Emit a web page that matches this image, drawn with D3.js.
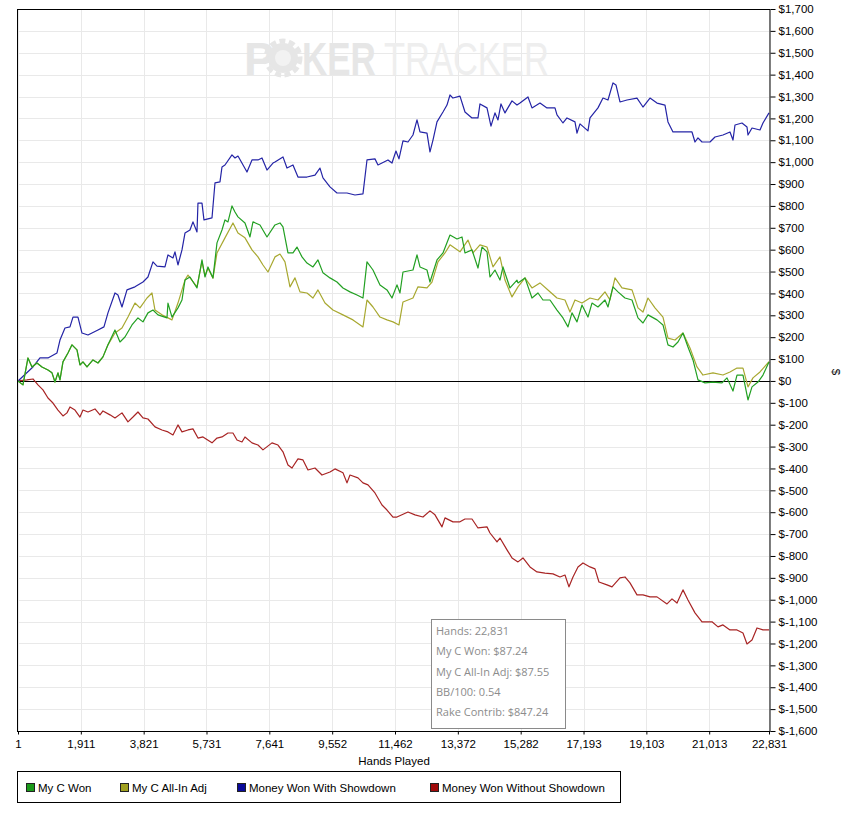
<!DOCTYPE html>
<html>
<head>
<meta charset="utf-8">
<script src="https://cdn.jsdelivr.net/npm/d3@7"></script>
<style>
  body { margin: 0; background: #fff; }
  svg { display: block; }
  .axis text { font-family: "Liberation Sans", Arial, sans-serif; font-size: 11.5px; fill: #000; }
  .axis line { stroke: #000; }
</style>
</head>
<body>
<svg id="chart" width="843" height="816"></svg>
<script>
// x tick labels (hands played)
const handTicks = [1, 1911, 3821, 5731, 7641, 9552, 11462, 13372, 15282, 17193, 19103, 21013, 22831];

// [hand, dollars]
const wonWithShowdown = [
  [1,0],[456,64],[669,105],[912,105],[1186,128],[1277,187],[1429,242],[1581,247],[1672,292],[1824,292],
  [1946,219],[2128,210],[2432,233],[2614,247],[2736,311],[2949,402],[3040,393],[3162,338],[3314,416],[3557,430],
  [3800,452],[3952,475],[4104,544],[4226,525],[4469,521],[4560,576],[4712,562],[4773,590],[4864,530],[4986,599],
  [5077,676],[5229,690],[5320,727],[5442,681],[5472,813],[5594,813],[5654,736],[5898,745],[5989,905],[6141,910],
  [6202,978],[6293,987],[6506,1033],[6597,1019],[6688,1028],[6962,955],[7114,1010],[7296,1010],[7418,1019],[7570,964],
  [7752,996],[7813,1001],[8056,1024],[8178,973],[8360,987],[8512,932],[8786,932],[9029,941],[9181,973],[9272,928],
  [9485,887],[9698,859],[10002,859],[10245,850],[10488,855],[10610,1010],[10853,1015],[10944,987],[11248,1010],[11370,996],
  [11491,1051],[11582,1015],[11704,1097],[11856,1092],[12008,1124],[12130,1193],[12221,1138],[12434,1133],[12525,1047],[12616,1101],
  [12738,1184],[12920,1229],[13042,1261],[13133,1307],[13224,1293],[13437,1302],[13589,1229],[13802,1202],[13984,1202],[14045,1266],
  [14258,1248],[14379,1165],[14501,1225],[14592,1193],[14683,1266],[14805,1225],[15018,1280],[15170,1261],[15261,1270],[15504,1298],
  [15626,1248],[15869,1270],[16082,1248],[16325,1248],[16386,1216],[16568,1179],[16690,1202],[16933,1184],[16994,1133],[17085,1175],
  [17328,1143],[17389,1202],[17632,1248],[17784,1293],[17936,1284],[18088,1362],[18179,1353],[18301,1275],[18514,1284],[18818,1293],
  [19000,1252],[19213,1293],[19426,1270],[19669,1261],[19760,1184],[19912,1138],[20216,1138],[20490,1138],[20581,1092],[20672,1111],
  [20794,1092],[21037,1092],[21189,1115],[21432,1124],[21645,1138],[21736,1101],[21797,1170],[22010,1179],[22162,1161],[22192,1124],
  [22314,1156],[22557,1147],[22648,1179],[22831,1225]
];

const myCWon = [
  [1,0],[152,-18],[304,105],[426,64],[578,82],[730,64],[912,50],[1034,37],[1125,-5],[1216,37],
  [1277,5],[1368,87],[1520,128],[1642,165],[1794,142],[1885,73],[1976,87],[2098,64],[2280,96],[2432,82],
  [2584,110],[2736,165],[2949,233],[3101,178],[3253,201],[3466,256],[3648,288],[3800,270],[3952,311],[4104,324],
  [4256,302],[4530,288],[4560,356],[4682,292],[4864,334],[4986,370],[5077,461],[5229,475],[5442,425],[5594,553],
  [5685,475],[5776,521],[5928,471],[6050,631],[6202,690],[6293,736],[6384,727],[6506,800],[6597,772],[6688,750],
  [6901,722],[7053,658],[7144,727],[7357,713],[7570,658],[7813,713],[7965,722],[8056,704],[8208,585],[8360,585],
  [8482,612],[8634,567],[8786,539],[8968,521],[9120,553],[9272,494],[9485,471],[9698,452],[9880,425],[10093,407],
  [10306,393],[10488,379],[10610,544],[10792,507],[11005,439],[11218,416],[11370,379],[11522,439],[11613,402],[11704,498],
  [12008,507],[12130,576],[12221,521],[12434,507],[12525,452],[12738,553],[12920,585],[13133,667],[13346,649],[13498,658],
  [13589,585],[13802,599],[13984,516],[14106,612],[14258,590],[14349,475],[14501,507],[14653,461],[14744,521],[14957,425],
  [15170,461],[15200,448],[15413,471],[15626,379],[15808,402],[15960,370],[16173,370],[16386,324],[16568,288],[16720,247],
  [16842,311],[16994,270],[17146,347],[17328,292],[17450,356],[17632,338],[17845,370],[17936,338],[18088,430],[18240,407],
  [18453,379],[18666,370],[18848,288],[19000,265],[19152,302],[19426,279],[19608,256],[19760,165],[19912,155],[20064,178],
  [20216,219],[20368,155],[20520,96],[20672,5],[20885,-9],[21128,-5],[21402,-9],[21554,14],[21736,-46],[21858,27],
  [22040,27],[22192,-87],[22314,-27],[22496,-5],[22648,27],[22831,87]
];

const myCAllInAdj = [
  [1,0],[152,-18],[304,105],[426,64],[578,82],[730,64],[912,50],[1034,37],[1125,-5],[1216,37],
  [1277,5],[1368,87],[1520,128],[1642,165],[1794,142],[1885,73],[1976,87],[2098,64],[2280,96],[2432,82],
  [2584,110],[2736,165],[2949,219],[3162,242],[3344,292],[3557,356],[3709,334],[3922,379],[4074,402],[4165,324],
  [4378,302],[4682,279],[4864,356],[5077,461],[5168,484],[5442,430],[5594,545],[5685,480],[5776,515],[5928,470],
  [6050,585],[6293,654],[6536,722],[6688,676],[6901,654],[7114,599],[7296,567],[7448,530],[7600,498],[7813,567],
  [7965,580],[8117,544],[8269,430],[8421,471],[8573,407],[8786,402],[8968,379],[9120,416],[9333,356],[9576,324],
  [9880,302],[10184,279],[10488,247],[10610,370],[10792,338],[11005,292],[11218,279],[11400,270],[11582,256],[11704,361],
  [12008,379],[12160,430],[12434,425],[12586,452],[12768,544],[12981,585],[13133,622],[13437,590],[13680,644],[13832,585],
  [14045,622],[14258,612],[14440,521],[14653,567],[14805,461],[15018,384],[15200,430],[15413,471],[15626,425],[15869,448],
  [16112,416],[16386,379],[16629,370],[16781,315],[16933,370],[17146,356],[17389,379],[17632,370],[17845,407],[17997,370],
  [18149,471],[18362,425],[18666,416],[18848,334],[19000,315],[19152,379],[19365,334],[19608,292],[19760,196],[19973,187],
  [20216,219],[20429,151],[20642,64],[20824,27],[21128,37],[21432,27],[21645,41],[21858,59],[22040,59],[22192,-27],
  [22344,14],[22557,41],[22831,88]
];

const wonWithoutShowdown = [
  [1,0],[274,5],[456,9],[608,-18],[760,-41],[912,-78],[1064,-101],[1216,-133],[1368,-160],[1490,-146],
  [1581,-119],[1733,-133],[1885,-165],[1976,-133],[2128,-142],[2341,-128],[2493,-155],[2584,-137],[2797,-155],[2949,-169],
  [3162,-146],[3344,-187],[3496,-165],[3648,-142],[3800,-169],[3952,-174],[4165,-210],[4378,-224],[4560,-233],[4712,-247],
  [4864,-201],[4986,-233],[5168,-224],[5320,-219],[5472,-261],[5624,-256],[5898,-283],[6050,-261],[6202,-256],[6384,-238],
  [6536,-238],[6658,-270],[6810,-279],[6901,-256],[7114,-283],[7296,-293],[7448,-315],[7722,-283],[7904,-293],[8056,-324],
  [8208,-384],[8330,-398],[8512,-356],[8664,-361],[8816,-407],[9029,-398],[9242,-430],[9485,-416],[9637,-402],[9880,-420],
  [10002,-466],[10093,-430],[10336,-443],[10488,-466],[10640,-475],[10853,-512],[11066,-567],[11218,-590],[11400,-622],[11522,-622],
  [11856,-599],[12069,-612],[12312,-622],[12525,-594],[12677,-612],[12890,-667],[12981,-626],[13224,-644],[13437,-644],[13589,-631],
  [13802,-631],[13984,-672],[14258,-667],[14349,-695],[14562,-736],[14653,-718],[14866,-772],[15018,-809],[15200,-827],[15352,-809],
  [15565,-850],[15778,-873],[16021,-878],[16264,-882],[16477,-896],[16629,-887],[16750,-941],[16872,-896],[17024,-850],[17176,-832],
  [17389,-850],[17541,-859],[17662,-919],[17906,-932],[18058,-941],[18301,-900],[18453,-896],[18605,-923],[18818,-978],[19000,-978],
  [19213,-987],[19426,-987],[19730,-1019],[19882,-996],[20034,-1015],[20216,-955],[20368,-1001],[20581,-1060],[20794,-1101],[21098,-1101],
  [21280,-1124],[21432,-1115],[21645,-1138],[21858,-1138],[22040,-1152],[22162,-1202],[22314,-1184],[22466,-1129],[22648,-1138],[22831,-1138]
];

const seriesNames = ["My C Won", "My C All-In Adj", "Money Won With Showdown", "Money Won Without Showdown"];
const lineColors = ["#22a022", "#a8a830", "#2424a6", "#a82424"];
const swatchColors = ["#1a9a1a", "#a0a020", "#0a0a9a", "#a00a0a"];

const infoLines = ["Hands: 22,831", "My C Won: $87.24", "My C All-In Adj: $87.55", "BB/100: 0.54", "Rake Contrib: $847.24"];

const box = { left: 18, right: 770, top: 9, bottom: 731 };

const svg = d3.select("#chart");

const x = d3.scaleLinear().domain([1, 22831]).range([box.left, box.right - 1]);
const y = d3.scaleLinear().domain([-1600, 1700]).range([box.bottom, box.top]);
const yTicks = d3.range(-1600, 1701, 100);

const money = v => v < 0 ? "$-" + d3.format(",")(-v) : "$" + d3.format(",")(v);

// grid
const grid = svg.append("g").attr("stroke", "#e9e9e9").attr("stroke-width", 1);
grid.selectAll(".gy").data(yTicks).enter().append("line")
    .attr("x1", box.left).attr("x2", box.right)
    .attr("y1", d => Math.round(y(d)) + 0.5).attr("y2", d => Math.round(y(d)) + 0.5);
grid.selectAll(".gx").data(handTicks).enter().append("line")
    .attr("x1", d => Math.round(x(d)) + 0.5).attr("x2", d => Math.round(x(d)) + 0.5)
    .attr("y1", box.top).attr("y2", box.bottom);

// watermark: P, chip, KER (bold), TRACKER (light); narrowed with a scale
const wm = svg.append("g").attr("font-family", "'Liberation Sans', Arial, sans-serif").attr("font-size", 46);
wm.append("text").attr("x", 244).attr("y", 75).attr("font-weight", "bold").attr("fill", "#e6e6e6").text("P");
wm.append("circle").attr("cx", 283).attr("cy", 58).attr("r", 15).attr("fill", "#e6e6e6");
wm.append("circle").attr("cx", 283).attr("cy", 58).attr("r", 17).attr("fill", "none")
    .attr("stroke", "#e6e6e6").attr("stroke-width", 5).attr("stroke-dasharray", "6,3.5");
wm.append("circle").attr("cx", 283).attr("cy", 58).attr("r", 8).attr("fill", "#f2f2f2");
wm.append("g").attr("transform", "translate(302,75) scale(0.76,1)")
  .append("text").attr("font-weight", "bold").attr("fill", "#e6e6e6").text("KER");
wm.append("g").attr("transform", "translate(384,75) scale(0.75,1)")
  .append("text").attr("fill", "#eeeeee").text("TRACKER");

// zero line
svg.append("line")
    .attr("x1", box.left).attr("x2", box.right)
    .attr("y1", Math.round(y(0)) + 0.5).attr("y2", Math.round(y(0)) + 0.5)
    .attr("stroke", "#000");

// lines
const line = d3.line().x(d => x(d[0])).y(d => y(d[1]));
const allSeries = [myCWon, myCAllInAdj, wonWithShowdown, wonWithoutShowdown];
const drawOrder = [3, 2, 1, 0];
drawOrder.forEach(i => {
    svg.append("path").datum(allSeries[i])
        .attr("fill", "none")
        .attr("stroke", lineColors[i])
        .attr("stroke-width", 1.2)
        .attr("stroke-linejoin", "round")
        .attr("d", line);
});

// frame
svg.append("rect")
    .attr("x", box.left - 0.5).attr("y", box.top + 0.5)
    .attr("width", box.right - box.left + 0.5).attr("height", box.bottom - box.top)
    .attr("fill", "none").attr("stroke", "#000");

// axes
const yAxis = d3.axisRight(y).tickValues(yTicks).tickFormat(money).tickSize(5).tickPadding(3);
svg.append("g").attr("class", "axis")
    .attr("transform", `translate(${box.right + 0.5},0)`)
    .call(yAxis)
    .call(g => g.select(".domain").remove());

const xAxis = d3.axisBottom(x).tickValues(handTicks).tickFormat(d3.format(",")).tickSize(3).tickPadding(5);
svg.append("g").attr("class", "axis")
    .attr("transform", `translate(0,${box.bottom + 0.5})`)
    .call(xAxis)
    .call(g => g.select(".domain").remove());

svg.append("text")
    .attr("x", (box.left + box.right) / 2).attr("y", 765)
    .attr("text-anchor", "middle")
    .attr("font-family", "'Liberation Sans', Arial, sans-serif").attr("font-size", 11.5)
    .text("Hands Played");

svg.append("text")
    .attr("transform", "translate(832,372) rotate(90)")
    .attr("text-anchor", "middle")
    .attr("font-family", "'Liberation Sans', Arial, sans-serif").attr("font-size", 11.5)
    .text("$");

// info box
const info = svg.append("g");
info.append("rect")
    .attr("x", 431.5).attr("y", 619.5).attr("width", 134).attr("height", 109)
    .attr("fill", "#fff").attr("stroke", "#8a8a8a");
info.selectAll("text").data(infoLines).enter().append("text")
    .attr("x", 436).attr("y", (d, i) => 635 + i * 20.3)
    .attr("font-family", "'Open Sans', 'Noto Sans', sans-serif").attr("font-size", 11)
    .attr("fill", "#8c8c8c")
    .text(d => d);

// legend
const legend = svg.append("g");
legend.append("rect")
    .attr("x", 17.5).attr("y", 771.5).attr("width", 603).attr("height", 31)
    .attr("fill", "#fff").attr("stroke", "#000");
const legendX = [26, 120, 237, 430];
const items = legend.selectAll(".item").data(seriesNames).enter().append("g")
    .attr("transform", (d, i) => `translate(${legendX[i]},783)`);
items.append("rect")
    .attr("x", 0.5).attr("y", 0.5).attr("width", 8).attr("height", 8)
    .attr("fill", (d, i) => swatchColors[i]).attr("stroke", "#222");
items.append("text")
    .attr("x", 12).attr("y", 9)
    .attr("font-family", "'Liberation Sans', Arial, sans-serif").attr("font-size", 11.5)
    .text(d => d);
</script>
</body>
</html>
